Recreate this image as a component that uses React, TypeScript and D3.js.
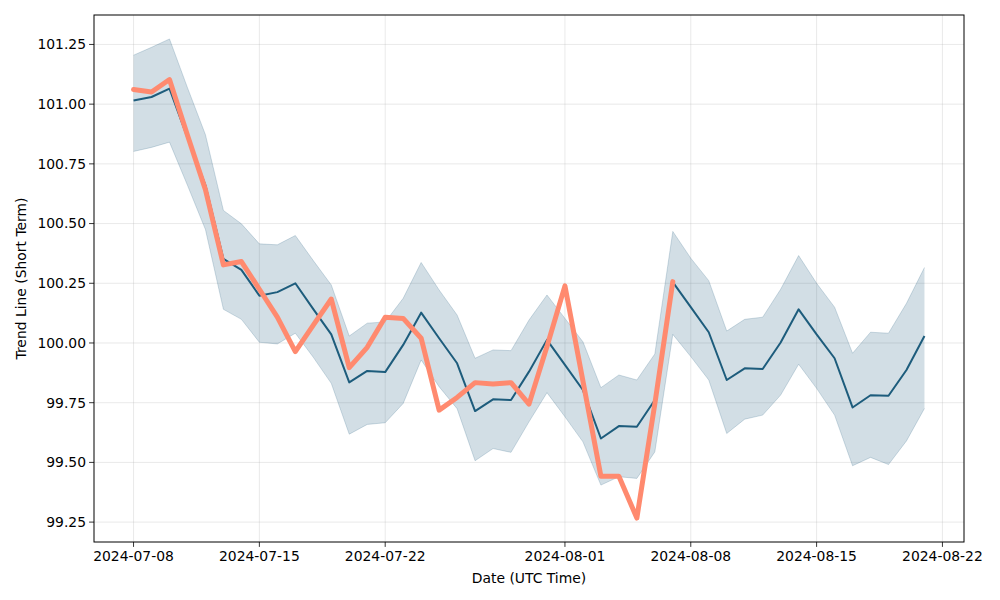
import React from "react";
import * as d3 from "d3";

const startDate = "2024-07-08";

const midValues = [
  101.015, 101.03, 101.065, 100.86, 100.66, 100.352, 100.306, 100.198, 100.213, 100.25,
  100.142, 100.036, 99.835, 99.883, 99.878, 99.992, 100.127, 100.02, 99.915, 99.715,
  99.764, 99.761, 99.88, 100.013, 99.908, 99.803, 99.6, 99.652, 99.649, 99.761,
  100.255, 100.15, 100.045, 99.845, 99.894, 99.891, 100.002, 100.141, 100.036, 99.936,
  99.73, 99.781, 99.779, 99.887, 100.029,
];

const upperValues = [
  101.205, 101.238, 101.273, 101.069, 100.872, 100.555, 100.499, 100.415, 100.411, 100.45,
  100.345, 100.243, 100.029, 100.083, 100.088, 100.187, 100.337, 100.222, 100.117, 99.936,
  99.971, 99.968, 100.096, 100.201, 100.103, 100.005, 99.813, 99.866, 99.845, 99.954,
  100.467, 100.355, 100.261, 100.05, 100.099, 100.108, 100.225, 100.366, 100.25, 100.15,
  99.957, 100.045, 100.041, 100.166, 100.316,
];

const lowerValues = [
  100.802, 100.819, 100.841, 100.66, 100.475, 100.141, 100.099, 100.003, 99.996, 100.041,
  99.94, 99.831, 99.618, 99.659, 99.666, 99.747, 99.929, 99.817, 99.725, 99.507,
  99.558, 99.542, 99.67, 99.792, 99.691, 99.586, 99.405, 99.44, 99.433, 99.544,
  100.036, 99.943, 99.845, 99.621, 99.681, 99.698, 99.782, 99.911, 99.81, 99.698,
  99.486, 99.521, 99.491, 99.59, 99.726,
];

const actualValues = [
  101.061, 101.051, 101.103, 100.87, 100.642, 100.327, 100.341, 100.225, 100.108, 99.964,
  100.075, 100.184, 99.897, 99.982, 100.108, 100.103, 100.02, 99.719, 99.772, 99.834,
  99.828, 99.834, 99.744, 99.985, 100.239, 99.841, 99.442, 99.442, 99.267, 99.745,
  100.257,
];

const yTicks = [99.25, 99.5, 99.75, 100.0, 100.25, 100.5, 100.75, 101.0, 101.25];
const xTickLabels = ["2024-07-08", "2024-07-15", "2024-07-22", "2024-08-01", "2024-08-08", "2024-08-15", "2024-08-22"];

const W = 1000;
const H = 600;
const left = 94;
const right = 964;
const top = 15;
const bottom = 542;

const DAY = 86400000;
const parse = (s: string) => new Date(s + "T00:00:00Z");
const t0 = parse(startDate).getTime();
const dateAt = (i: number) => new Date(t0 + i * DAY);

const FONT = "'DejaVu Sans', sans-serif";
const DARK = "#1d5c7c";
const ORANGE = "#ff8a6f";

export default function App() {
  const n = midValues.length;
  const xMin = t0;
  const xMax = t0 + (n - 1) * DAY;
  const xPad = (xMax - xMin) * 0.05;
  const x = d3.scaleUtc().domain([new Date(xMin - xPad), new Date(xMax + xPad)]).range([left, right]);

  const all = [...upperValues, ...lowerValues, ...actualValues, ...midValues];
  const yLo = d3.min(all) as number;
  const yHi = d3.max(all) as number;
  const yPad = (yHi - yLo) * 0.05;
  const y = d3.scaleLinear().domain([yLo - yPad, yHi + yPad]).range([bottom, top]);

  const bandData = midValues.map((_, i) => ({ d: dateAt(i), lo: lowerValues[i], hi: upperValues[i] }));
  const area = d3
    .area<{ d: Date; lo: number; hi: number }>()
    .x((p) => x(p.d))
    .y0((p) => y(p.lo))
    .y1((p) => y(p.hi));
  const upperLine = d3.line<{ d: Date; lo: number; hi: number }>().x((p) => x(p.d)).y((p) => y(p.hi));
  const lowerLine = d3.line<{ d: Date; lo: number; hi: number }>().x((p) => x(p.d)).y((p) => y(p.lo));
  const line = d3.line<number>().x((_, i) => x(dateAt(i))).y((v) => y(v));

  const xTicks = xTickLabels.map((s) => ({ s, d: parse(s) }));

  return (
    <div style={{ position: "fixed", left: 0, top: 0 }}>
      <svg width={W} height={H} style={{ display: "block", background: "#fff" }}>
        {/* grid */}
        {yTicks.map((t) => (
          <line key={"gy" + t} x1={left} x2={right} y1={y(t)} y2={y(t)} stroke="#b0b0b0" strokeOpacity={0.35} strokeWidth={0.8} />
        ))}
        {xTicks.map((t) => (
          <line key={"gx" + t.s} x1={x(t.d)} x2={x(t.d)} y1={top} y2={bottom} stroke="#b0b0b0" strokeOpacity={0.35} strokeWidth={0.8} />
        ))}
        {/* band */}
        <path d={area(bandData) || ""} fill={DARK} fillOpacity={0.2} />
        <path d={upperLine(bandData) || ""} fill="none" stroke={DARK} strokeOpacity={0.2} strokeWidth={1} />
        <path d={lowerLine(bandData) || ""} fill="none" stroke={DARK} strokeOpacity={0.2} strokeWidth={1} />
        {/* mid line */}
        <path d={line(midValues) || ""} fill="none" stroke={DARK} strokeWidth={2} strokeLinejoin="round" />
        {/* actual */}
        <path d={line(actualValues) || ""} fill="none" stroke={ORANGE} strokeWidth={5} strokeLinejoin="round" strokeLinecap="round" />
        {/* frame */}
        <rect x={left} y={top} width={right - left} height={bottom - top} fill="none" stroke="#000" strokeWidth={1} />
        {/* y ticks */}
        {yTicks.map((t) => (
          <g key={"yt" + t}>
            <line x1={left - 4.9} x2={left} y1={y(t)} y2={y(t)} stroke="#000" strokeWidth={0.8} />
            <text x={left - 8} y={y(t)} dy="0.35em" textAnchor="end" fontFamily={FONT} fontSize={13.9} fill="#000">
              {t.toFixed(2)}
            </text>
          </g>
        ))}
        {/* x ticks */}
        {xTicks.map((t) => (
          <g key={"xt" + t.s}>
            <line x1={x(t.d)} x2={x(t.d)} y1={bottom} y2={bottom + 4.9} stroke="#000" strokeWidth={0.8} />
            <text x={x(t.d)} y={bottom + 8} dy="0.8em" textAnchor="middle" fontFamily={FONT} fontSize={13.9} fill="#000">
              {t.s}
            </text>
          </g>
        ))}
        <text x={(left + right) / 2} y={583} textAnchor="middle" fontFamily={FONT} fontSize={13.9} fill="#000">
          Date (UTC Time)
        </text>
        <text
          transform={`translate(26, ${(top + bottom) / 2}) rotate(-90)`}
          textAnchor="middle"
          fontFamily={FONT}
          fontSize={13.9}
          fill="#000"
        >
          Trend Line (Short Term)
        </text>
      </svg>
    </div>
  );
}
